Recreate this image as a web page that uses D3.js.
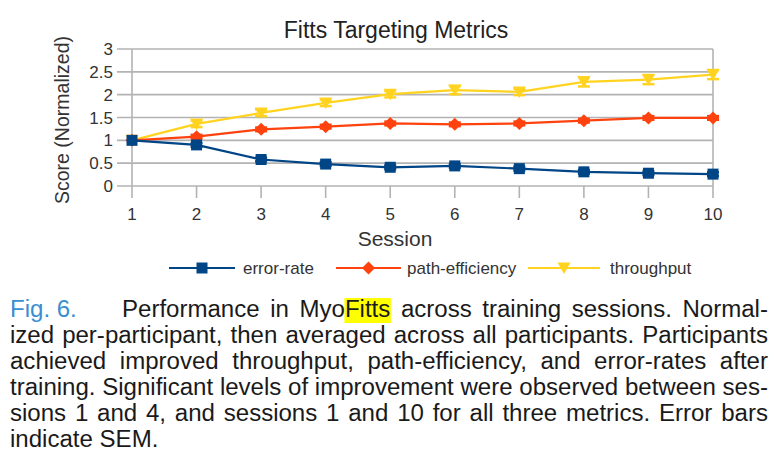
<!DOCTYPE html>
<html><head><meta charset="utf-8">
<script src="https://cdn.jsdelivr.net/npm/d3@7"></script>
<style>body{margin:0;background:#fff}svg{display:block}</style>
</head><body>
<svg id="c" width="778" height="474"></svg>
<script>
const sessions = [1,2,3,4,5,6,7,8,9,10];
const yTicks = [0,0.5,1,1.5,2,2.5,3];
const yTickLabels = ["0","0.5","1","1.5","2","2.5","3"];
const errorRate = [1, 0.90, 0.58, 0.48, 0.41, 0.44, 0.38, 0.31, 0.28, 0.26];
const errorRateSem = [0, 0.04, 0.04, 0.04, 0.04, 0.04, 0.04, 0.04, 0.04, 0.04];
const pathEfficiency = [1, 1.08, 1.24, 1.30, 1.37, 1.35, 1.37, 1.43, 1.49, 1.49];
const pathEfficiencySem = [0, 0.04, 0.04, 0.04, 0.04, 0.04, 0.04, 0.04, 0.04, 0.04];
const throughput = [1, 1.36, 1.60, 1.82, 2.01, 2.10, 2.06, 2.28, 2.33, 2.44];
const throughputSem = [0, 0.07, 0.07, 0.07, 0.07, 0.09, 0.07, 0.1, 0.1, 0.1];
const seriesNames = ["error-rate","path-efficiency","throughput"];
const titleText = "Fitts Targeting Metrics";
const xTitle = "Session";
const yTitle = "Score (Normalized)";
const captionLines = [
  "Performance in MyoFitts across training sessions. Normal-",
  "ized per-participant, then averaged across all participants. Participants",
  "achieved improved throughput, path-efficiency, and error-rates after",
  "training. Significant levels of improvement were observed between ses-",
  "sions 1 and 4, and sessions 1 and 10 for all three metrics. Error bars",
  "indicate SEM."
];

const svg = d3.select("#c");
const font = "'Liberation Sans', Arial, Helvetica, sans-serif";
const x = d3.scaleLinear().domain([1,10]).range([132,713]);
const y = d3.scaleLinear().domain([0,3]).range([186,49]);
const grid = "#b3b3b3";

const g = svg.append("g");
g.selectAll("line.h").data(yTicks).join("line")
  .attr("x1", 117).attr("x2", x(10))
  .attr("y1", d=>y(d)).attr("y2", d=>y(d))
  .attr("stroke", grid).attr("stroke-width", 1.6);
g.append("line").attr("x1",x(1)).attr("x2",x(1)).attr("y1",y(3)).attr("y2",y(0)+12)
  .attr("stroke",grid).attr("stroke-width",1.6);
g.append("line").attr("x1",x(10)).attr("x2",x(10)).attr("y1",y(3)).attr("y2",y(0)+12)
  .attr("stroke",grid).attr("stroke-width",1.6);
g.selectAll("line.xt").data(sessions.slice(1,9)).join("line")
  .attr("x1",d=>x(d)).attr("x2",d=>x(d)).attr("y1",y(0)).attr("y2",y(0)+12)
  .attr("stroke",grid).attr("stroke-width",1.6);

svg.append("g").selectAll("text").data(yTicks).join("text")
  .attr("x",113).attr("y",d=>y(d)+6).attr("text-anchor","end")
  .attr("font-family",font).attr("font-size",17).attr("fill","#333")
  .text((d,i)=>yTickLabels[i]);
svg.append("g").selectAll("text").data(sessions).join("text")
  .attr("x",d=>x(d)).attr("y",220).attr("text-anchor","middle")
  .attr("font-family",font).attr("font-size",17).attr("fill","#333")
  .text(d=>String(d));

svg.append("text").attr("x",396).attr("y",38).attr("text-anchor","middle")
  .attr("font-family",font).attr("font-size",23).attr("fill","#222").text(titleText);
svg.append("text").attr("x",395).attr("y",246).attr("text-anchor","middle")
  .attr("font-family",font).attr("font-size",21).attr("fill","#333").text(xTitle);
svg.append("text").attr("transform","translate(69,120) rotate(-90)").attr("text-anchor","middle")
  .attr("font-family",font).attr("font-size",19.5).attr("fill","#333").text(yTitle);

const colors = ["#004586","#ff420e","#ffd320"];
const series = [
  {name:seriesNames[0], vals:errorRate, sem:errorRateSem, color:colors[0], sym:"square"},
  {name:seriesNames[1], vals:pathEfficiency, sem:pathEfficiencySem, color:colors[1], sym:"diamond"},
  {name:seriesNames[2], vals:throughput, sem:throughputSem, color:colors[2], sym:"tri"}
];
function marker(sel, sym, color){
  if(sym==="square"){
    sel.append("rect").attr("x",-5.5).attr("y",-5.5).attr("width",11).attr("height",11).attr("fill",color);
  } else if(sym==="diamond"){
    sel.append("path").attr("d","M0,-6.5L6.5,0L0,6.5L-6.5,0Z").attr("fill",color);
  } else {
    sel.append("path").attr("d","M-6.5,-5.5L6.5,-5.5L0,6Z").attr("fill",color);
  }
}
const line = d3.line().x((d,i)=>x(sessions[i])).y(d=>y(d));
[...series].reverse().forEach(s=>{
  const sg = svg.append("g");
  sg.append("path").attr("d", line(s.vals)).attr("fill","none")
    .attr("stroke", s.color).attr("stroke-width",2.2);
  const pts = s.vals.map((v,i)=>({s:sessions[i], v, e:s.sem[i]})).filter(p=>p.e>0);
  pts.forEach(p=>{
    const cx = x(p.s), y1 = y(p.v+p.e), y2 = y(p.v-p.e);
    sg.append("line").attr("x1",cx).attr("x2",cx).attr("y1",y1).attr("y2",y2)
      .attr("stroke",s.color).attr("stroke-width",2.2);
    [y1,y2].forEach(yy=>sg.append("line").attr("x1",cx-6).attr("x2",cx+6)
      .attr("y1",yy).attr("y2",yy).attr("stroke",s.color).attr("stroke-width",2.5));
  });
  s.vals.forEach((v,i)=>{
    const m = sg.append("g").attr("transform",`translate(${x(sessions[i])},${y(v)})`);
    marker(m, s.sym, s.color);
  });
});

const legendPos = [{x1:169,x2:235,tx:243},{x1:336,x2:401,tx:407},{x1:528,x2:600,tx:610}];
series.forEach((s,i)=>{
  const p = legendPos[i], ly = 268;
  svg.append("line").attr("x1",p.x1).attr("x2",p.x2).attr("y1",ly).attr("y2",ly)
    .attr("stroke",s.color).attr("stroke-width",2.2);
  const m = svg.append("g").attr("transform",`translate(${(p.x1+p.x2)/2},${ly})`);
  marker(m, s.sym, s.color);
  svg.append("text").attr("x",p.tx).attr("y",ly+6).attr("font-family",font)
    .attr("font-size",17).attr("fill","#333").text(s.name);
});

// caption
const capFont = 23, capColor = "#1a1a1a";
const cap = svg.append("g");
const meas = svg.append("text").attr("font-family",font).attr("font-size",capFont);
function w(t){ meas.text(t); return meas.node().getComputedTextLength(); }
const spaceW = w("a a") - w("aa");
const left = 10, right = 768;
const lines = captionLines.map((l,li)=>{
  const words = l.split(" ");
  const ws = words.map(w);
  const start = li===0 ? 122 : left;
  return {words, ws, start, justify: li<captionLines.length-1};
});
let sx = 10;
lines.forEach(L=>{
  if(!L.justify) return;
  const need = d3.sum(L.ws) + (L.words.length-1)*spaceW;
  sx = Math.min(sx, (right-L.start)/need);
});
const capG = cap.append("g").attr("transform",`scale(${sx},1)`);
const baseY = [317,343,369,395,421,447];
lines.forEach((L,li)=>{
  const s0 = L.start/sx, e0 = right/sx;
  const tot = d3.sum(L.ws);
  const gap = L.justify ? (e0-s0-tot)/(L.words.length-1) : spaceW;
  let cx = s0;
  L.words.forEach((wd,wi)=>{
    if(wd==="MyoFitts"){
      const wm = w("Myo"), wf = w("Fitts");
      capG.append("rect").attr("x",cx+wm-0.5).attr("y",baseY[li]-19).attr("width",wf+1).attr("height",25).attr("fill","#ffff00");
      const t = capG.append("text").attr("x",cx).attr("y",baseY[li]).attr("font-family",font).attr("font-size",capFont).attr("fill",capColor);
      t.append("tspan").text("Myo"); t.append("tspan").text("Fitts");
    } else {
      capG.append("text").attr("x",cx).attr("y",baseY[li]).attr("font-family",font).attr("font-size",capFont).attr("fill",capColor).text(wd);
    }
    cx += L.ws[wi] + gap;
  });
});
capG.append("text").attr("x",left/sx).attr("y",baseY[0]).attr("font-family",font).attr("font-size",capFont).attr("fill","#3a8fd0").text("Fig. 6.");
meas.remove();
</script>
</body></html>
